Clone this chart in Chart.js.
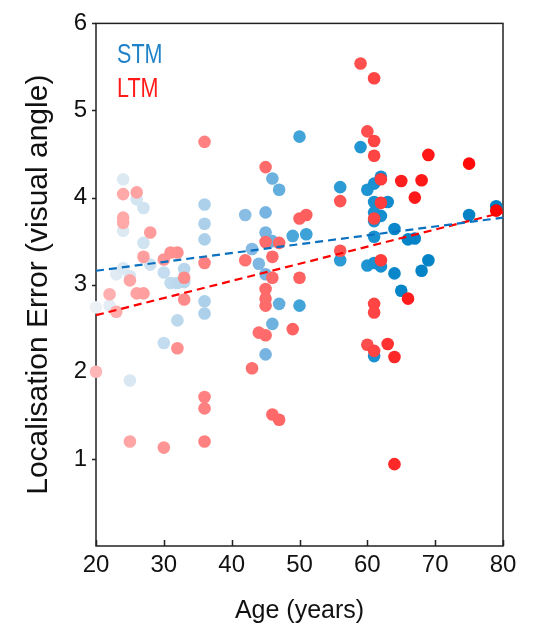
<!DOCTYPE html>
<html>
<head>
<meta charset="utf-8">
<script src="https://cdn.jsdelivr.net/npm/chart.js@4.4.0/dist/chart.umd.min.js"></script>
<style>
  html, body { margin: 0; padding: 0; background: #fff; }
  #wrap { position: relative; width: 533px; height: 627px; }
  .tag { position: absolute; font-family: 'Liberation Sans', Arial, sans-serif; font-size: 28px; line-height: 1; transform: scaleX(0.77); transform-origin: 0 0; }
</style>
</head>
<body>
<div id="wrap">
  <canvas id="grafico" width="533" height="627"></canvas>
  <div class="tag" style="left:117px; top:40px; color:#1f82c8;">STM</div>
  <div class="tag" style="left:117px; top:74px; color:#ff1a1a;">LTM</div>
</div>
<script>
// dados
var stmAge = [20, 22, 23, 24, 24, 24, 25, 25, 26, 27, 27, 28, 30, 30, 31, 32, 32, 33, 33,
  36, 36, 36, 36, 36, 42, 43, 44, 45, 45, 45, 45, 46, 46, 46, 47, 47, 49, 50, 50, 51,
  56, 56, 59, 60, 60, 61, 61, 61, 61, 61, 61, 61, 62, 62, 62, 63, 64, 64, 65, 66, 67, 68, 69, 75, 79];
var stmErr = [2.74, 2.76, 3.12, 4.21, 3.62, 3.19, 1.90, 3.10, 3.98, 3.88, 3.48, 3.23, 3.14, 2.33, 3.02, 3.02, 2.59, 3.18, 3.03,
  3.92, 3.70, 3.52, 2.81, 2.67, 3.80, 3.41, 3.24, 3.83, 3.60, 3.12, 2.20, 4.22, 3.50, 2.55, 4.09, 2.78, 3.56, 4.70, 2.76, 3.58,
  4.12, 3.28, 4.58, 4.09, 3.22, 4.16, 3.95, 3.83, 3.73, 3.55, 3.25, 2.18, 4.24, 3.79, 3.21, 3.95, 3.64, 3.13, 2.93, 3.52, 3.53, 3.16, 3.28, 3.80, 3.90];

var ltmAge = [20, 22, 23, 24, 24, 24, 25, 25, 26, 26, 27, 27, 28, 30, 30, 31, 32, 32, 33, 33,
  36, 36, 36, 36, 36, 42, 43, 44, 45, 45, 45, 45, 45, 45, 46, 46, 46, 47, 47, 49, 50, 50, 51,
  56, 56, 59, 60, 60, 61, 61, 61, 61, 61, 61, 61, 62, 62, 62, 63, 64, 64, 65, 66, 67, 68, 69, 75, 79];
var ltmErr = [2.00, 2.89, 2.69, 4.04, 3.77, 3.71, 3.05, 1.20, 4.06, 2.90, 3.32, 2.90, 3.60, 3.29, 1.13, 3.37, 3.37, 2.27, 3.08, 2.83,
  4.64, 3.25, 1.71, 1.58, 1.20, 3.28, 2.04, 2.45, 4.35, 3.49, 2.95, 2.84, 2.76, 2.42, 3.32, 3.08, 1.51, 3.48, 1.45, 2.49, 3.76, 3.08, 3.80,
  3.96, 3.39, 5.54, 4.76, 2.31, 5.37, 4.65, 4.48, 3.76, 2.78, 2.68, 2.24, 4.21, 3.94, 3.28, 2.32, 2.17, 0.94, 4.19, 2.84, 4.00, 4.20, 4.49, 4.39, 3.85];

// retas de regressao (pontas)
var fitAge = [20, 80];
var stmFit = [3.16, 3.77];
var ltmFit = [2.65, 3.83];

var xTicks = [20, 30, 40, 50, 60, 70, 80];
var yTicks = [1, 2, 3, 4, 5, 6];

// cores por idade (mais claro = mais novo)
var stmStops = [[20, [236, 241, 246]], [36, [172, 208, 234]], [45, [120, 180, 225]], [50, [64, 164, 216]], [60, [30, 148, 210]], [65, [5, 132, 200]], [80, [0, 128, 196]]];
var ltmStops = [[20, [255, 182, 182]], [36, [255, 128, 128]], [50, [255, 96, 96]], [60, [255, 78, 78]], [65, [255, 30, 30]], [80, [255, 0, 0]]];

function corIdade(stops, age) {
  for (var i = 1; i < stops.length; i++) {
    if (age <= stops[i][0]) {
      var a = stops[i - 1], b = stops[i];
      var t = (age - a[0]) / (b[0] - a[0]);
      var c = a[1].map(function (v, k) { return Math.round(v + (b[1][k] - v) * t); });
      return 'rgb(' + c.join(',') + ')';
    }
  }
  return 'rgb(' + stops[stops.length - 1][1].join(',') + ')';
}

function pontos(ages, vals) {
  return ages.map(function (a, i) { return { x: a, y: vals[i] }; });
}

var moldura = {
  id: 'moldura',
  beforeDatasetsDraw: function (chart) {
    var ctx = chart.ctx, ca = chart.chartArea;
    var sx = chart.scales.x, sy = chart.scales.y;
    ctx.save();
    ctx.strokeStyle = '#222';
    ctx.lineWidth = 1.5;
    ctx.strokeRect(ca.left, ca.top, ca.right - ca.left, ca.bottom - ca.top);
    ctx.beginPath();
    // ticks do x para dentro
    xTicks.forEach(function (v) {
      var px = Math.round(sx.getPixelForValue(v)) + 0.5;
      ctx.moveTo(px, ca.bottom);
      ctx.lineTo(px, ca.bottom - 6);
    });
    // ticks do y para fora
    yTicks.forEach(function (v) {
      var py = Math.round(sy.getPixelForValue(v)) + 0.5;
      ctx.moveTo(ca.left, py);
      ctx.lineTo(ca.left - 4, py);
    });
    ctx.stroke();
    ctx.restore();
  }
};

Chart.defaults.font.family = "'Liberation Sans', Arial, sans-serif";
Chart.defaults.color = '#111';

var ctx = document.getElementById('grafico');
var chartGraph = new Chart(ctx, {
  type: 'scatter',
  data: {
    datasets: [
      {
        type: 'line',
        label: 'STM fit',
        data: pontos(fitAge, stmFit),
        borderColor: '#0a70c0',
        borderWidth: 2.2,
        borderDash: [8, 5],
        pointRadius: 0,
        fill: false,
        order: 0
      },
      {
        type: 'line',
        label: 'LTM fit',
        data: pontos(fitAge, ltmFit),
        borderColor: '#ff0000',
        borderWidth: 2.2,
        borderDash: [8, 5],
        pointRadius: 0,
        fill: false,
        order: 0
      },
      {
        label: 'LTM',
        data: pontos(ltmAge, ltmErr),
        pointBackgroundColor: ltmAge.map(function (a) { return corIdade(ltmStops, a); }),
        pointBorderWidth: 0,
        pointRadius: 6.3,
        order: 1
      },
      {
        label: 'STM',
        data: pontos(stmAge, stmErr),
        pointBackgroundColor: stmAge.map(function (a) { return corIdade(stmStops, a); }),
        pointBorderWidth: 0,
        pointRadius: 6.3,
        order: 2
      }
    ]
  },
  options: {
    responsive: false,
    animation: false,
    clip: false,
    layout: { padding: { left: 0, right: 30, top: 22, bottom: 0 } },
    plugins: {
      legend: { display: false },
      tooltip: { enabled: false }
    },
    scales: {
      x: {
        type: 'linear',
        min: 20,
        max: 80,
        afterBuildTicks: function (s) { s.ticks = xTicks.map(function (v) { return { value: v }; }); },
        afterFit: function (s) { s.height = 81; },
        grid: { display: false, drawTicks: false },
        border: { display: false },
        ticks: { font: { size: 24 }, padding: 5, maxRotation: 0 },
        title: { display: true, text: 'Age (years)', font: { size: 25 }, padding: { top: 0, bottom: 1 } }
      },
      y: {
        type: 'linear',
        min: 0,
        max: 6,
        afterBuildTicks: function (s) { s.ticks = yTicks.map(function (v) { return { value: v }; }); },
        afterFit: function (s) { s.width = 96; },
        grid: { display: false, drawTicks: false },
        border: { display: false },
        ticks: { font: { size: 24 }, padding: 9 },
        title: { display: true, text: 'Localisation Error (visual angle)', font: { size: 30 }, padding: { top: 21, bottom: 0 } }
      }
    }
  },
  plugins: [moldura]
});
</script>
</body>
</html>
